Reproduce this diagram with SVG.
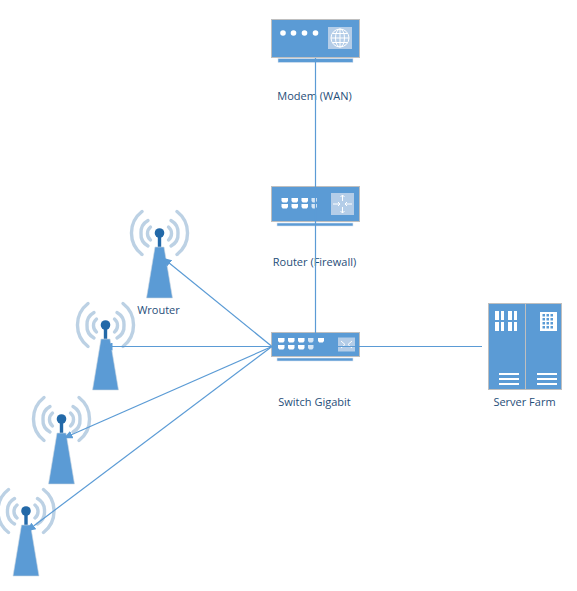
<svg xmlns="http://www.w3.org/2000/svg" width="577" height="591" viewBox="0 0 577 591">
<style>
text{font-family:"Open Sans","Liberation Sans",sans-serif;font-size:11px;fill:#1f4e79;text-anchor:middle}
.box{fill:#5b9bd5;stroke:#bfbfbf;stroke-width:1}
.bar{fill:#5b9bd5;stroke:#dbe5f1;stroke-width:.6}
.panel{fill:#b4cde8}
.w{fill:#fff}
.wl{stroke:#fff;fill:none;stroke-width:1}
.arc{fill:none;stroke:#bcd1e4;stroke-width:3.400;stroke-linecap:round}
.c{stroke:#5b9bd5;stroke-width:1.200;fill:none}
.port{fill:#fff}
</style>
<defs>
<marker id="a" viewBox="0 0 9 8" refX="8.500" refY="4" markerWidth="9" markerHeight="8" orient="auto" markerUnits="userSpaceOnUse"><path d="M9 4L0 0V8Z" fill="#5b9bd5"/></marker>
<g id="tower">
<path class="arc" d="M-9 -6A8.500 8.500 0 0 0 -9 7M9 -6A8.500 8.500 0 0 1 9 7"/>
<path class="arc" d="M-11.500 -12.500A13.750 13.750 0 0 0 -18.500 0A13.750 13.750 0 0 0 -11.500 13M11.500 -12.500A13.750 13.750 0 0 1 18.500 0A13.750 13.750 0 0 1 11.500 13"/>
<path class="arc" d="M-17.500 -21.500A27.200 27.200 0 0 0 -17.500 21.500M17.500 -21.500A27.200 27.200 0 0 1 17.500 21.500"/>
<rect x="-1.700" y="0" width="3.400" height="14" fill="#2369a8"/>
<circle cx="0" cy="0" r="4.800" fill="#2369a8"/>
<path d="M-4.500 14H4.500L13 65H-13Z" fill="#5b9bd5" stroke="#cfd8e3" stroke-width=".6"/>
</g>
<g id="ports">
<path class="port" d="M0 0h6.500v3l-1.200 1.500h-4.100l-1.200-1.500z"/>
<path class="port" d="M10 0h6.500v3l-1.200 1.500h-4.100l-1.200-1.500z"/>
<path class="port" d="M20 0h6.500v3l-1.200 1.500h-4.100l-1.200-1.500z"/>
<path class="port" d="M30 0h5.500v3l-1.200 1.500h-3.100l-1.200-1.500z" opacity=".75"/>
</g>
</defs>
<g id="modem">
<rect class="box" x="271.500" y="19.500" width="88" height="38"/>
<rect class="bar" x="278" y="58.500" width="75" height="4"/>
<circle class="w" cx="283" cy="33" r="2.800"/><circle class="w" cx="293.500" cy="33" r="2.800"/><circle class="w" cx="304.500" cy="33" r="2.800"/><circle class="w" cx="315.500" cy="33" r="2.800"/>
<rect class="panel" x="328" y="27" width="24" height="22"/>
<g class="wl"><circle cx="340" cy="38" r="9"/><ellipse cx="340" cy="38" rx="4.500" ry="9"/><path d="M340 29V47M331 38H349M332.500 33.500H347.500M332.500 42.500H347.500"/></g>
<text x="314.500" y="100">Modem (WAN)</text>
</g>
<g id="router">
<rect class="box" x="271.500" y="186.500" width="88" height="35"/>
<rect class="bar" x="277" y="223" width="76" height="3"/>
<use href="#ports" x="281.500" y="198"/><use href="#ports" x="281.500" y="204"/>
<rect class="panel" x="331" y="193" width="23" height="22"/>
<path class="wl" d="M333 204H340M338 202L340 204L338 206M352 204H345M347 202L345 204L347 206M342.500 195V201M340.500 197L342.500 195L344.500 197M342.500 213V207M340.500 211L342.500 213L344.500 211"/>
<text x="314.500" y="266">Router (Firewall)</text>
</g>
<g id="switch">
<rect class="box" x="271.500" y="332.500" width="88" height="24"/>
<rect class="bar" x="277" y="358" width="76" height="3"/>
<use href="#ports" x="278" y="338"/><use href="#ports" x="278" y="345"/>
<path class="port" d="M318 338h6v3l-1.200 1.500h-3.600l-1.200-1.500z"/>
<rect class="panel" x="338" y="337.500" width="17" height="14"/>
<path class="wl" d="M341 341L345 344.500L341 348M352 341L348 344.500L352 348"/>
<text x="314.500" y="406">Switch Gigabit</text>
</g>
<g id="server-farm">
<rect class="box" x="488.500" y="303.500" width="73" height="86"/>
<path d="M525.500 304V389" stroke="#bfbfbf" stroke-width="1"/>
<path class="w" d="M495 311h4v9h-4zM495 322h4v9h-4zM501 311h3v9h-3zM501 322h3v9h-3zM508 311h4v9h-4zM508 322h4v9h-4zM514 311h3v9h-3zM514 322h3v9h-3z"/>
<rect class="w" x="540" y="312" width="17" height="19"/>
<g fill="#5b9bd5"><rect x="542.500" y="314" width="2.500" height="2.500"/><rect x="546.500" y="314" width="2.500" height="2.500"/><rect x="550.500" y="314" width="2.500" height="2.500"/><rect x="542.500" y="318" width="2.500" height="2.500"/><rect x="546.500" y="318" width="2.500" height="2.500"/><rect x="550.500" y="318" width="2.500" height="2.500"/><rect x="542.500" y="322" width="2.500" height="2.500"/><rect x="546.500" y="322" width="2.500" height="2.500"/><rect x="550.500" y="322" width="2.500" height="2.500"/><rect x="542.500" y="326" width="2.500" height="2.500"/><rect x="546.500" y="326" width="2.500" height="2.500"/><rect x="550.500" y="326" width="2.500" height="2.500"/></g>
<path d="M499 374H519M499 379H519M499 384H519M537 374H557M537 379H557M537 384H557" stroke="#fff" stroke-width="1.800"/>
<text x="524.500" y="406">Server Farm</text>
</g>
<g id="wrouter-1"><use href="#tower" x="159.500" y="233"/><text x="158.500" y="314">Wrouter</text></g>
<g id="wrouter-2"><use href="#tower" x="105.500" y="325"/></g>
<g id="wrouter-3"><use href="#tower" x="61.500" y="419"/></g>
<g id="wrouter-4"><use href="#tower" x="26" y="511"/></g>
<g id="connectors">
<path class="c" d="M315.500 58V333"/>
<path class="c" d="M338 346.500H482"/>
<path class="c" d="M272 346.500L163 258" marker-end="url(#a)"/>
<path class="c" d="M272 346.500L104 346.500" marker-end="url(#a)"/>
<path class="c" d="M272 346.500L64 438" marker-end="url(#a)"/>
<path class="c" d="M272 346.500L27 531" marker-end="url(#a)"/>
</g>
</svg>
